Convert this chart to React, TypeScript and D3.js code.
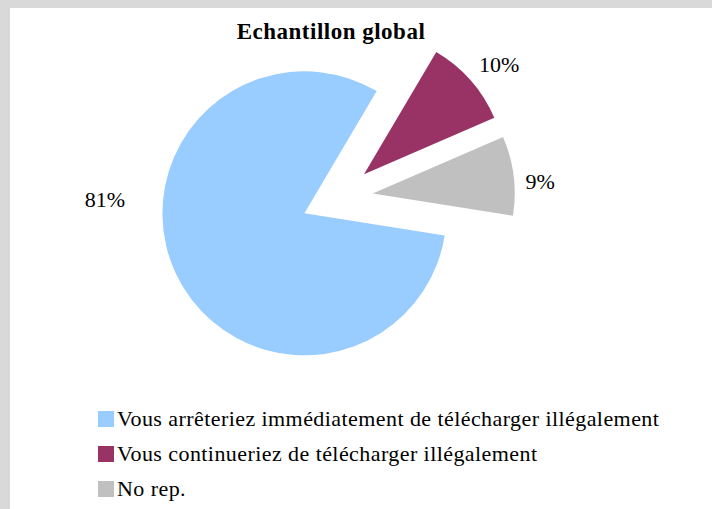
import React, { useEffect, useRef } from 'react';
import * as d3 from 'd3';

const title = 'Echantillon global';
const categories = [
  'Vous arrêteriez immédiatement de télécharger illégalement',
  'Vous continueriez de télécharger illégalement',
  'No rep.',
];
const values = [81, 10, 9];
const colors = ['#99ccff', '#993366', '#c0c0c0'];

const W = 712;
const H = 509;
const FONT = '"Liberation Serif", serif';

export default function App() {
  const ref = useRef<SVGSVGElement | null>(null);

  useEffect(() => {
    if (!ref.current) return;
    const svg = d3.select(ref.current);
    svg.selectAll('*').remove();

    // frame: grey band top and left, white plot area
    svg.append('rect').attr('width', W).attr('height', H).attr('fill', '#d9d9d9');
    svg.append('rect').attr('x', 10).attr('y', 8).attr('width', W - 10).attr('height', H - 8).attr('fill', '#fff');

    svg.append('text')
      .attr('x', 331)
      .attr('y', 39)
      .attr('text-anchor', 'middle')
      .style('font-family', FONT)
      .style('font-weight', 'bold')
      .style('font-size', '23px')
      .style('letter-spacing', '0.5px')
      .style('fill', '#000')
      .text(title);

    const cx = 337, cy = 198, r = 142, explode = 36;
    const deg = Math.PI / 180;
    const start = 99 * deg;

    const pie = d3.pie<number>().sort(null).startAngle(start).endAngle(start + 2 * Math.PI);
    const arcs = pie(values);
    const arc = d3.arc<d3.PieArcDatum<number>>().innerRadius(0).outerRadius(r);

    const g = svg.append('g').attr('transform', `translate(${cx},${cy})`);

    g.selectAll('path.slice')
      .data(arcs)
      .enter()
      .append('path')
      .attr('class', 'slice')
      .attr('d', arc)
      .attr('fill', (_, i) => colors[i])
      .attr('transform', d => {
        const m = (d.startAngle + d.endAngle) / 2;
        return `translate(${explode * Math.sin(m)},${-explode * Math.cos(m)})`;
      });

    // label placement: angle nudge (deg) and distance from centre
    const labelNudge = [25, 2, 2.4];
    const labelDist = [232, 210, 204];
    const total = d3.sum(values);

    g.selectAll('text.lbl')
      .data(arcs)
      .enter()
      .append('text')
      .attr('class', 'lbl')
      .attr('x', (d, i) => labelDist[i] * Math.sin((d.startAngle + d.endAngle) / 2 + labelNudge[i] * deg))
      .attr('y', (d, i) => -labelDist[i] * Math.cos((d.startAngle + d.endAngle) / 2 + labelNudge[i] * deg))
      .attr('dy', '0.35em')
      .attr('text-anchor', 'middle')
      .style('font-family', FONT)
      .style('font-size', '22px')
      .style('fill', '#000')
      .text(d => `${Math.round((d.value / total) * 100)}%`);

    const legend = svg.selectAll('g.legend')
      .data(categories)
      .enter()
      .append('g')
      .attr('class', 'legend')
      .attr('transform', (_, i) => `translate(98, ${411 + i * 35})`);

    legend.append('rect')
      .attr('width', 16)
      .attr('height', 16)
      .attr('fill', (_, i) => colors[i]);

    legend.append('text')
      .attr('x', 19)
      .attr('y', 15)
      .style('font-family', FONT)
      .style('font-size', '22px')
      .style('letter-spacing', '0.43px')
      .style('fill', '#000')
      .text(d => d);
  }, []);

  return (
    <div style={{ position: 'absolute', left: 0, top: 0, width: W, height: H, overflow: 'hidden' }}>
      <svg ref={ref} width={W} height={H} style={{ display: 'block' }} />
    </div>
  );
}
